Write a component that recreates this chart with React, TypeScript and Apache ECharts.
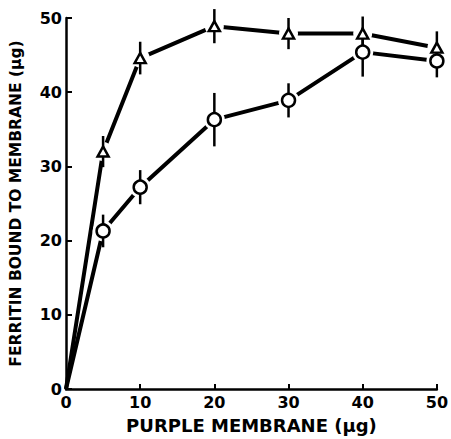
import React, { useEffect, useRef } from "react";
import * as echarts from "echarts";

const xTicks = [0, 10, 20, 30, 40, 50];
const yTicks = [0, 10, 20, 30, 40, 50];

const doseX = [5, 10, 20, 30, 40, 50];
const triangleY = [32.0, 44.6, 48.9, 47.9, 47.9, 46.0];
const triangleErr = [2.1, 2.2, 2.3, 2.1, 2.3, 2.2];
const circleY = [21.3, 27.2, 36.3, 38.9, 45.4, 44.2];
const circleErr = [2.2, 2.3, 3.6, 2.3, 3.3, 2.2];

const FONT = "'DejaVu Sans', 'Liberation Sans', sans-serif";

export default function App() {
  const ref = useRef<HTMLDivElement>(null);
  useEffect(() => {
    if (!ref.current) return;
    const chart = echarts.init(ref.current, undefined, { renderer: "svg" });

    const withOrigin = (ys: number[]) => [[0, 0], ...doseX.map((x, i) => [x, ys[i]])];
    const pts = (ys: number[]) => doseX.map((x, i) => [x, ys[i]]);
    const errData = (ys: number[], es: number[]) => doseX.map((x, i) => [x, ys[i] - es[i], ys[i] + es[i]]);

    const errSeries = (ys: number[], es: number[]) => ({
      type: "custom",
      data: errData(ys, es),
      z: 4,
      renderItem: (_p: any, api: any) => {
        const lo = api.coord([api.value(0), api.value(1)]);
        const hi = api.coord([api.value(0), api.value(2)]);
        return {
          type: "line",
          shape: { x1: lo[0], y1: lo[1], x2: hi[0], y2: hi[1] },
          style: { stroke: "#000", lineWidth: 2.5 },
        };
      },
    });

    chart.setOption({
      animation: false,
      backgroundColor: "#fff",
      grid: { left: 65, right: 11, top: 18, bottom: 48 },
      xAxis: {
        type: "value",
        min: 0,
        max: 50,
        interval: 10,
        name: "PURPLE MEMBRANE (μg)",
        nameLocation: "middle",
        nameGap: 27,
        nameTextStyle: { fontFamily: FONT, fontWeight: "bold", fontSize: 18, color: "#000" },
        axisLine: { onZero: false, lineStyle: { color: "#000", width: 2.5 } },
        axisTick: { inside: true, length: 5, lineStyle: { color: "#000", width: 2 } },
        axisLabel: {
          margin: 5,
          fontFamily: FONT,
          fontWeight: "bold",
          fontSize: 16,
          color: "#000",
          formatter: (v: number) => (xTicks.includes(v) ? String(v) : ""),
        },
        splitLine: { show: false },
      },
      yAxis: {
        type: "value",
        min: 0,
        max: 50,
        interval: 10,
        name: "FERRITIN BOUND TO MEMBRANE (μg)",
        nameLocation: "middle",
        nameGap: 42,
        nameTextStyle: { fontFamily: FONT, fontWeight: "bold", fontSize: 15.5, color: "#000" },
        axisLine: { onZero: false, lineStyle: { color: "#000", width: 2.5 } },
        axisTick: { inside: true, length: 6, lineStyle: { color: "#000", width: 2 } },
        axisLabel: {
          margin: 4,
          fontFamily: FONT,
          fontWeight: "bold",
          fontSize: 16,
          color: "#000",
          formatter: (v: number) => (yTicks.includes(v) ? String(v) : ""),
        },
        splitLine: { show: false },
      },
      series: [
        {
          type: "line",
          data: withOrigin(triangleY),
          showSymbol: false,
          symbol: "none",
          lineStyle: { color: "#000", width: 4 },
          z: 2,
        },
        {
          type: "line",
          data: withOrigin(circleY),
          showSymbol: false,
          symbol: "none",
          lineStyle: { color: "#000", width: 4 },
          z: 2,
        },
        {
          type: "scatter",
          data: pts(triangleY),
          symbol: "circle",
          symbolSize: 19,
          itemStyle: { color: "#fff", borderWidth: 0, opacity: 1 },
          z: 3,
        },
        {
          type: "scatter",
          data: pts(circleY),
          symbol: "circle",
          symbolSize: 21,
          itemStyle: { color: "#fff", borderWidth: 0, opacity: 1 },
          z: 3,
        },
        errSeries(triangleY, triangleErr),
        errSeries(circleY, circleErr),
        {
          type: "scatter",
          data: pts(triangleY),
          symbol: "triangle",
          symbolSize: [11, 10],
          itemStyle: { color: "#fff", borderColor: "#000", borderWidth: 2.5, opacity: 1 },
          z: 5,
        },
        {
          type: "scatter",
          data: pts(circleY),
          symbol: "circle",
          symbolSize: 13,
          itemStyle: { color: "#fff", borderColor: "#000", borderWidth: 2.5, opacity: 1 },
          z: 5,
        },
      ],
    });
    return () => chart.dispose();
  }, []);
  return <div ref={ref} style={{ width: 451, height: 439, position: "absolute", left: 0, top: 0 }} />;
}
